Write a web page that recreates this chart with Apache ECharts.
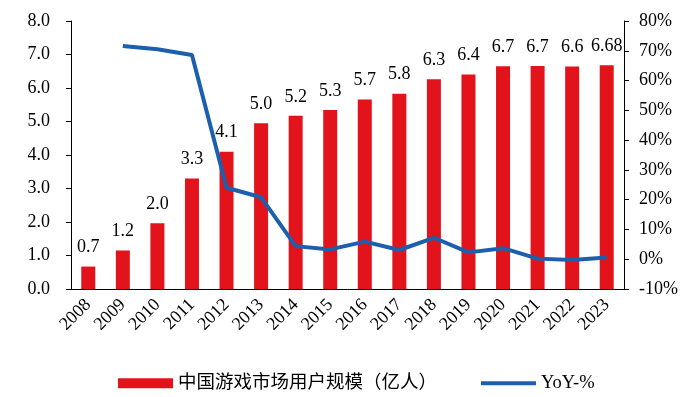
<!DOCTYPE html>
<html>
<head>
<meta charset="utf-8">
<script src="https://cdn.jsdelivr.net/npm/echarts@6/dist/echarts.min.js"></script>
<style>
  html, body { margin: 0; padding: 0; background: #fff; }
  #main { width: 694px; height: 397px; }
</style>
</head>
<body>
<div id="main"></div>
<script>
var years = ['2008', '2009', '2010', '2011', '2012', '2013', '2014', '2015',
  '2016', '2017', '2018', '2019', '2020', '2021', '2022', '2023'];
// 中国游戏市场用户规模（亿人）
var users = [0.67, 1.15, 1.96, 3.30, 4.10, 4.95, 5.17, 5.34,
  5.66, 5.83, 6.26, 6.40, 6.65, 6.66, 6.64, 6.68];
// 柱子上方的数据标签
var userLabels = ['0.7', '1.2', '2.0', '3.3', '4.1', '5.0', '5.2', '5.3',
  '5.7', '5.8', '6.3', '6.4', '6.7', '6.7', '6.6', '6.68'];
// YoY-%
var yoy = ['-', 71.6, 70.5, 68.6, 24.0, 20.8, 4.4, 3.3,
  5.9, 3.1, 7.2, 2.3, 3.7, 0.2, -0.3, 0.6];

var font = 'Liberation Serif';
var myChart = echarts.init(document.getElementById('main'));
var option = {
  animation: false,
  textStyle: { fontFamily: font, color: '#000' },
  grid: { left: 71, right: 70, top: 21, bottom: 108 },
  legend: {
    left: 113,
    top: 369,
    itemGap: 44,
    itemWidth: 55,
    itemHeight: 10,
    textStyle: { fontFamily: font + ', Noto Sans CJK SC', fontSize: 18.5, color: '#000' },
    data: [
      { name: '中国游戏市场用户规模（亿人）', icon: 'rect' },
      { name: 'YoY-%', icon: 'path://M0,0H55V4H0Z', itemStyle: { color: '#1B5FAD' } }
    ]
  },
  xAxis: {
    type: 'category',
    data: years,
    axisLine: { lineStyle: { color: '#000', width: 1 } },
    axisTick: { length: 5, lineStyle: { color: '#000' } },
    axisLabel: { rotate: 45, fontSize: 18, color: '#000', margin: 13, fontFamily: font }
  },
  yAxis: [{
    type: 'value',
    min: 0,
    max: 8,
    interval: 1,
    splitLine: { show: false },
    axisLine: { show: true, lineStyle: { color: '#000' } },
    axisTick: { show: true, length: 5, lineStyle: { color: '#000' } },
    axisLabel: {
      fontSize: 18, color: '#000', margin: 21, fontFamily: font,
      formatter: function(v) { return v.toFixed(1); }
    }
  }, {
    type: 'value',
    min: -10,
    max: 80,
    interval: 10,
    splitLine: { show: false },
    axisLine: { show: true, lineStyle: { color: '#000' } },
    axisTick: { show: true, length: 5, lineStyle: { color: '#000' } },
    axisLabel: {
      fontSize: 18, color: '#000', margin: 15, fontFamily: font,
      formatter: function(v) { return v + '%'; }
    }
  }],
  series: [{
    name: '中国游戏市场用户规模（亿人）',
    type: 'bar',
    data: users,
    barWidth: 14,
    itemStyle: { color: '#E3131C' },
    label: {
      show: true,
      position: 'top',
      distance: 10,
      fontSize: 18,
      color: '#000',
      fontFamily: font,
      formatter: function(p) { return userLabels[p.dataIndex]; }
    }
  }, {
    name: 'YoY-%',
    type: 'line',
    yAxisIndex: 1,
    data: yoy,
    symbol: 'none',
    lineStyle: { color: '#1B5FAD', width: 4 },
    itemStyle: { color: '#1B5FAD' }
  }]
};
myChart.setOption(option);
</script>
</body>
</html>
